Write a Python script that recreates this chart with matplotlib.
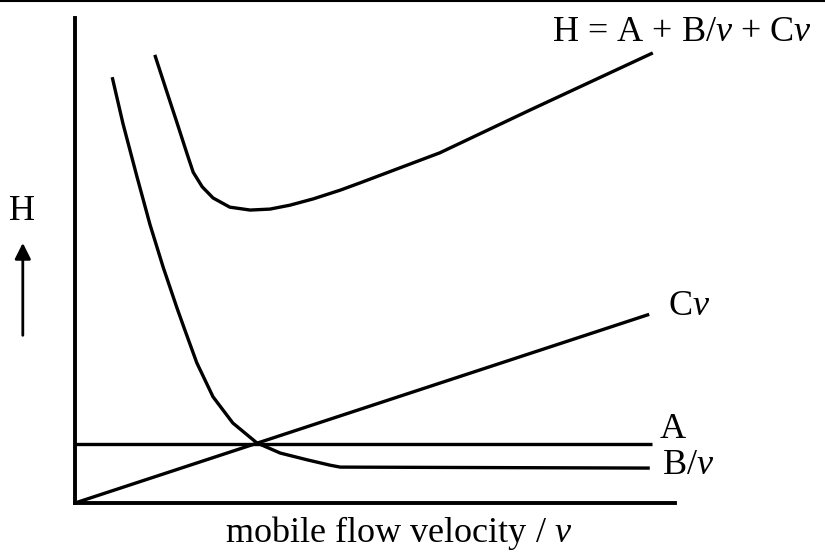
import matplotlib
matplotlib.use("Agg")
import matplotlib.pyplot as plt
from matplotlib.lines import Line2D

plt.rcParams['font.family'] = ['Liberation Serif', 'DejaVu Serif']
plt.rcParams['mathtext.fontset'] = 'custom'
plt.rcParams['mathtext.rm'] = 'Liberation Serif'
plt.rcParams['mathtext.it'] = 'Liberation Serif:italic'

# curve points (v along x, H along y, both 0..10)
bv_x = [0.62, 0.80, 1.03, 1.25, 1.47, 1.70, 1.83, 2.03, 2.30, 2.63, 3.03,
        3.42, 3.87, 4.25, 4.42, 9.58]
bv_y = [8.78, 7.82, 6.74, 5.74, 4.86, 4.02, 3.57, 2.89, 2.19, 1.65, 1.24,
        1.03, 0.89, 0.78, 0.74, 0.72]

h_x = [1.33, 1.53, 1.70, 1.87, 1.97, 2.12, 2.30, 2.58, 2.92, 3.25, 3.58,
       3.97, 4.42, 4.75, 6.08, 7.58, 9.63]
h_y = [9.24, 8.48, 7.84, 7.19, 6.82, 6.52, 6.29, 6.10, 6.04, 6.06, 6.14,
       6.27, 6.45, 6.60, 7.22, 8.10, 9.28]

a_x = [0.0, 9.62]
a_y = [1.22, 1.22]

cv_x = [0.0, 9.57]
cv_y = [0.0, 3.89]

fig = plt.figure(figsize=(8.25, 5.54), dpi=100)
ax = fig.add_axes([75 / 825, 51 / 554, 600 / 825, 485 / 554])
ax.set_xlim(0, 10)
ax.set_ylim(0, 10)

lw = 2.4
for xs, ys in [(bv_x, bv_y), (h_x, h_y), (a_x, a_y), (cv_x, cv_y)]:
    ax.plot(xs, ys, color='black', lw=lw, solid_joinstyle='round',
            solid_capstyle='butt', clip_on=False)

for s in ['top', 'right']:
    ax.spines[s].set_visible(False)
for s in ['left', 'bottom']:
    ax.spines[s].set_linewidth(2.8)
ax.set_xticks([])
ax.set_yticks([])

fs = 26
ax.text(7.95, 9.71, r'H = A + B/$\nu$ + C$\nu$', fontsize=fs, va='center', ha='left')
ax.text(9.88, 4.05, r'C$\nu$', fontsize=fs, va='center', ha='left')
ax.text(9.75, 1.52, 'A', fontsize=fs, va='center', ha='left')
ax.text(9.78, 0.78, r'B/$\nu$', fontsize=fs, va='center', ha='left')
ax.text(5.4, -0.62, r'mobile flow velocity / $\nu$', fontsize=fs, va='center', ha='center')
ax.text(-0.88, 6.02, 'H', fontsize=fs, va='center', ha='center')
ax.annotate('', xy=(-0.87, 5.42), xytext=(-0.87, 3.4),
            arrowprops=dict(arrowstyle='-|>', color='black', lw=2, mutation_scale=24),
            annotation_clip=False)

# scan border at the very top
fig.add_artist(Line2D([0, 1], [0.998, 0.998], color='black', lw=1.5))

fig.savefig('out.png', dpi=100)
